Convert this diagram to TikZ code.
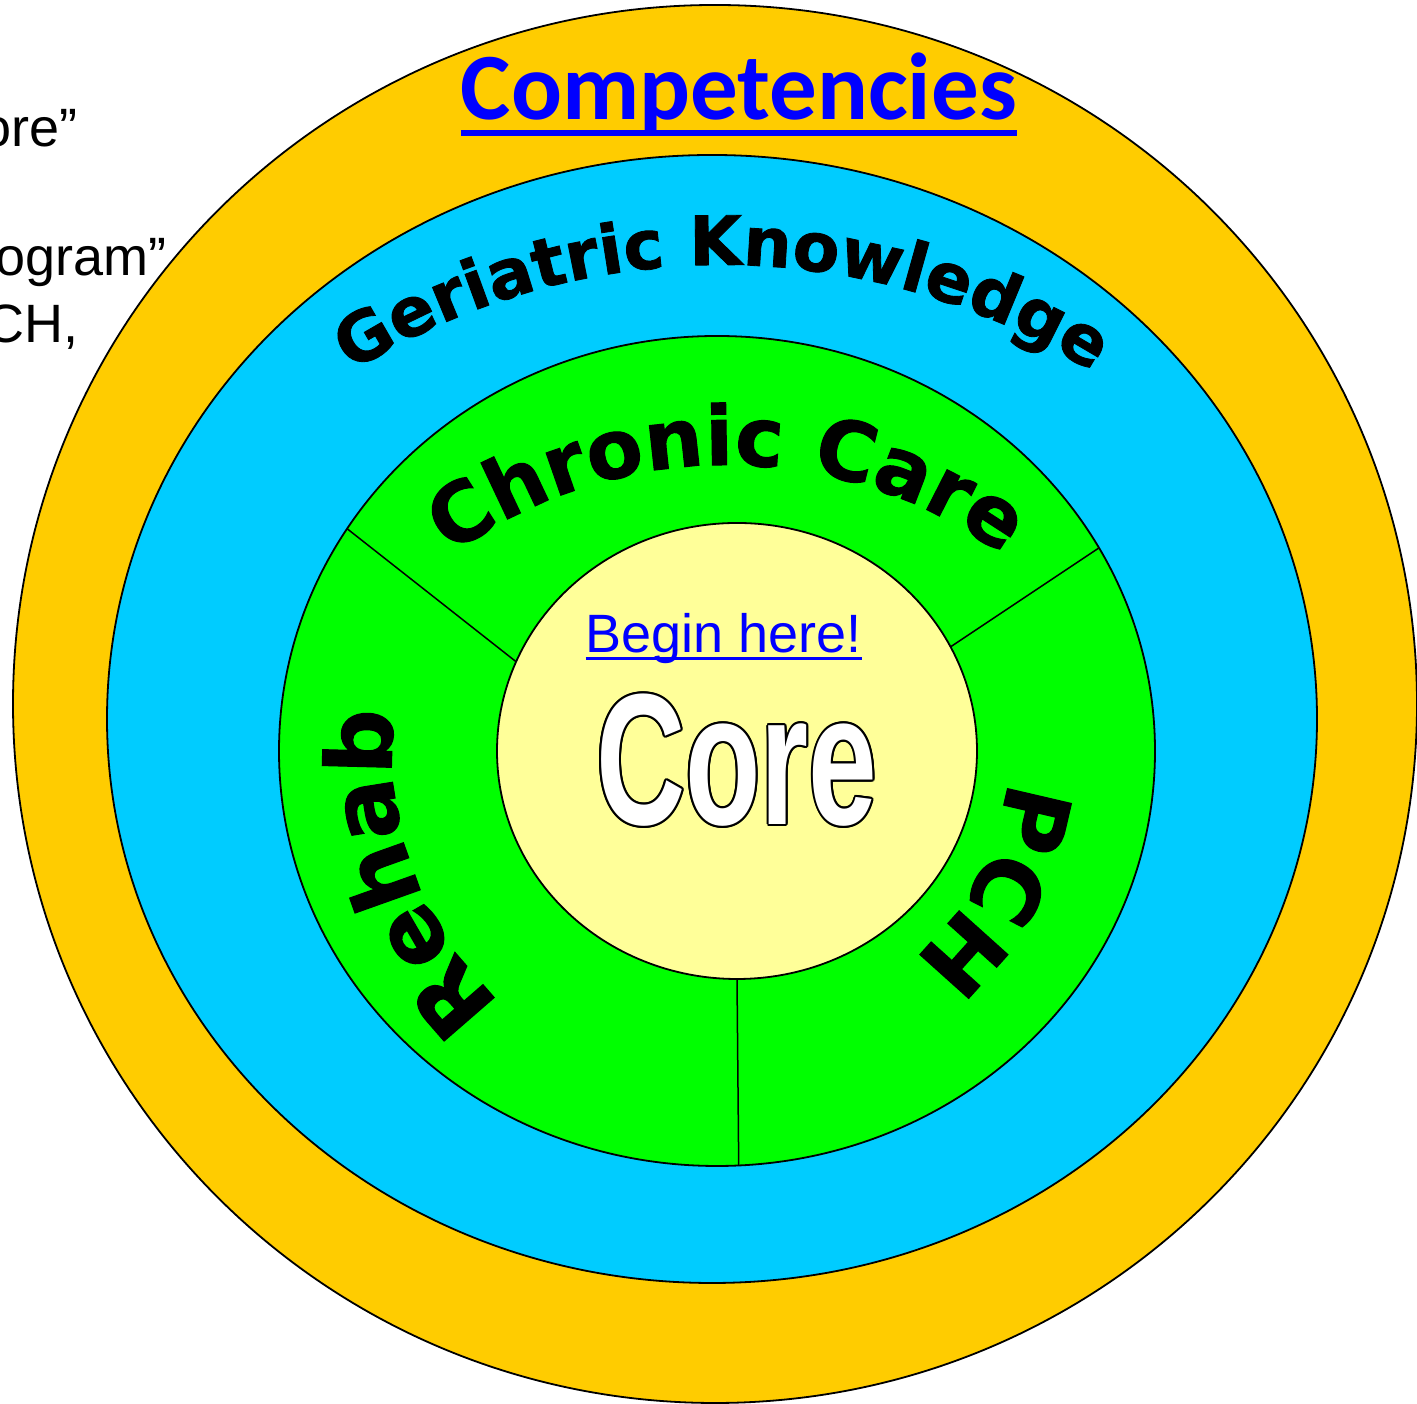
\documentclass[tikz,border=0pt]{standalone}
\usepackage{fontspec}
\setmainfont{Liberation Sans}
\newfontfamily\heavyfont{DejaVu Sans}[FakeBold=1.2]
\newfontfamily\titlefont{Carlito}
\newfontfamily\corefont{Liberation Sans}[FakeStretch=0.66]
\usetikzlibrary{shapes.geometric,decorations.text,calc}
\definecolor{ringorange}{HTML}{FFCC00}
\definecolor{ringblue}{HTML}{00CCFF}
\definecolor{ringgreen}{HTML}{00FF00}
\definecolor{coreyellow}{HTML}{FFFF99}
\definecolor{linkblue}{HTML}{0000FF}
\tikzset{
ring/.style={ellipse, draw, line width=1.8pt, inner sep=0pt, outer sep=0pt},
divider/.style={line width=1.5pt},
arctext/.style={decorate, decoration={text along path, text align=center, text={#1}}},
coreword/.style={inner sep=0pt, font=\corefont\bfseries\fontsize{187}{187}\selectfont},
fragment/.style={anchor=base east, inner sep=0pt, font=\fontsize{54}{62}\selectfont},
}

\begin{document}
\begin{tikzpicture}[x=1pt,y=1pt]
    \useasboundingbox (0,0) rectangle (1417,1404);

    \node[ring, fill=ringorange, minimum width=1404pt, minimum height=1398pt] (outer) at (715,700) {};
    \node[ring, fill=ringblue, minimum width=1210pt, minimum height=1128pt] (geri) at (712,685) {};
    \node[ring, fill=ringgreen, minimum width=876pt, minimum height=830pt] (chron) at (717,653) {};
    \node[ring, fill=coreyellow, minimum width=480pt, minimum height=456pt] (core) at (737,653) {};

    \draw[divider] (chron.149) -- (core.158);
    \draw[divider] (chron.28) -- (core.26);
    \draw[divider] (chron.273) -- (core.270);

    \node[anchor=base, inner sep=0pt, text=linkblue, font=\titlefont\bfseries\fontsize{95}{95}\selectfont] (title) at (739,1284) {Competencies};
    \draw[linkblue, line width=6pt] ([yshift=-13pt]title.base west) -- ([yshift=-13pt]title.base east);

    \node[fragment] (frag1) at (78,1257) {ore”};
    \node[fragment] (frag2) at (167,1128) {ogram”};
    \node[fragment] (frag3) at (79,1061) {CH,};

    \coordinate (gk) at (722,446);
    \coordinate (cc) at (727,473);
    \coordinate (rp) at (737,653);
    \path[arctext={|\heavyfont\bfseries\fontsize{68}{68}\selectfont|Geriatric Knowledge}] ($(gk)+(135:693)$) arc[start angle=135, end angle=45, radius=693];
    \path[arctext={|\heavyfont\bfseries\fontsize{82}{82}\selectfont|Chronic Care}] ($(cc)+(135:466)$) arc[start angle=135, end angle=45, radius=466];
    \path[arctext={|\heavyfont\bfseries\fontsize{91}{91}\selectfont|Rehab}] ($(rp)+(260:345)$) arc[start angle=260, end angle=140, radius=345];
    \path[arctext={|\heavyfont\bfseries\fontsize{90}{90}\selectfont|PCH}] ($(rp)+(32:272)$) arc[start angle=32, end angle=-88, radius=272];

    \node[anchor=base, inner sep=0pt, text=linkblue, font=\fontsize{54}{54}\selectfont] (begin) at (724,751) {Begin here!};
    \draw[linkblue, line width=3pt] ([yshift=-6pt]begin.base west) -- ([yshift=-6pt]begin.base east);

    \coordinate (cw) at (737,644);
    \foreach \a in {0,30,...,330}
        \node[coreword, text=black] (core-\a) at ([shift={(\a:2)}]cw) {Core};
    \node[coreword, text=white] (corew) at (cw) {Core};

\end{tikzpicture}
\end{document}
